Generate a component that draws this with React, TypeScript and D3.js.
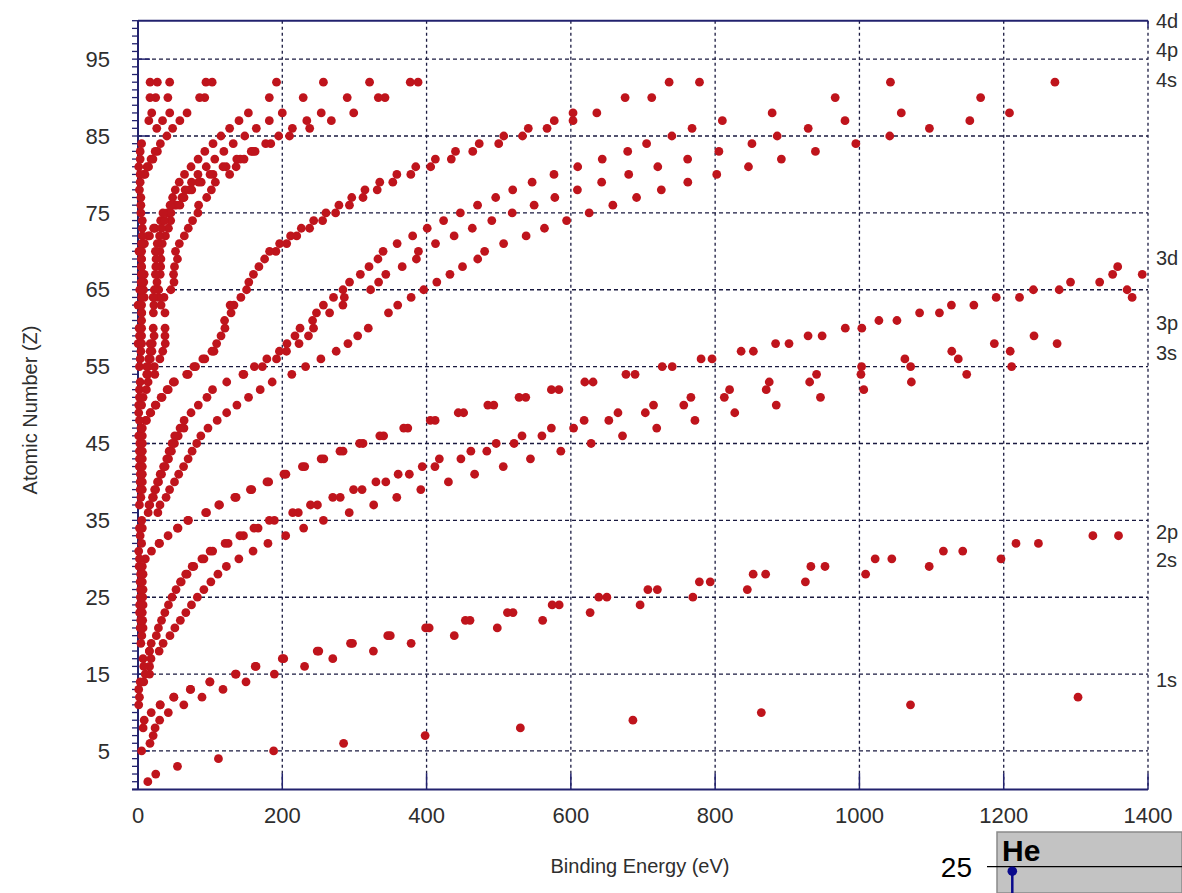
import React from "react";
import * as d3 from "d3";

// ---------- axes ----------
const xTicks = [0, 200, 400, 600, 800, 1000, 1200, 1400];
const yTicks = [5, 15, 25, 35, 45, 55, 65, 75, 85, 95];
const xTitle = "Binding Energy (eV)";
const yTitle = "Atomic Number (Z)";

// ---------- right-hand shell labels (Z position where they sit) ----------
const shellLabels = ["4d", "4p", "4s", "3d", "3p", "3s", "2p", "2s", "1s"];
const shellLabelZ = [99.9, 96.2, 92.3, 69.1, 60.7, 56.8, 33.5, 29.9, 14.2];

// ---------- binding energies [Z, eV] ----------
const s1s: [number, number][] = [
  [1, 13.6], [2, 24.6], [3, 54.7], [4, 111.5], [5, 188], [6, 285], [7, 398],
  [8, 530], [9, 686], [10, 864], [11, 1070.8], [12, 1303],
];
const s2s: [number, number][] = [
  [5, 5], [6, 16.6], [7, 21], [8, 23.7], [9, 30], [10, 42], [11, 63.5], [12, 88.7],
  [13, 117.8], [14, 149.7], [15, 189], [16, 230.9], [17, 270], [18, 326.3], [19, 378.6],
  [20, 438.4], [21, 498], [22, 560.9], [23, 626.7], [24, 696], [25, 769.1], [26, 844.6],
  [27, 925.1], [28, 1008.6], [29, 1096.7], [30, 1196.2],
];
const s2p1: [number, number][] = [
  [8, 7.1], [9, 8.6], [10, 18.3], [11, 30.65], [12, 49.78], [13, 72.95], [14, 99.82],
  [15, 136], [16, 163.6], [17, 202], [18, 250.6], [19, 297.3], [20, 349.7], [21, 403.6],
  [22, 460.2], [23, 519.8], [24, 583.8], [25, 649.9], [26, 719.9], [27, 793.2], [28, 870],
  [29, 952.3], [30, 1044.9], [31, 1143.2], [32, 1248.1], [33, 1359.1],
];
const s2p3: [number, number][] = [
  [11, 30.81], [12, 49.5], [13, 72.55], [14, 99.42], [15, 135], [16, 162.5],
  [17, 200], [18, 248.4], [19, 294.6], [20, 346.2], [21, 398.7], [22, 453.8], [23, 512.1],
  [24, 574.1], [25, 638.7], [26, 706.8], [27, 778.1], [28, 852.7], [29, 932.7],
  [30, 1021.8], [31, 1116.4], [32, 1217], [33, 1323.6],
];
const s3s: [number, number][] = [
  [18, 29.3], [19, 34.8], [20, 44.3], [21, 51.1], [22, 58.7], [23, 66.3], [24, 74.1],
  [25, 82.3], [26, 91.3], [27, 101], [28, 110.8], [29, 122.5], [30, 139.8], [31, 159.5],
  [32, 180.1], [33, 204.7], [34, 229.6], [35, 257], [36, 292.8], [37, 326.7], [38, 358.7],
  [39, 392], [40, 430.3], [41, 466.6], [42, 506.3], [43, 544], [44, 586.1], [45, 628.1],
  [46, 671.6], [47, 719], [48, 772], [49, 827.2], [50, 884.7], [51, 946], [52, 1006],
  [53, 1072], [54, 1148.7], [55, 1211],
];
const s3p1: [number, number][] = [
  [18, 15.9], [19, 18.3], [20, 25.4], [21, 28.3], [22, 32.6], [23, 37.2], [24, 42.2],
  [25, 47.2], [26, 52.7], [27, 58.9], [28, 68], [29, 77.3], [30, 91.4], [31, 103.5],
  [32, 124.9], [33, 146.2], [34, 166.5], [35, 189], [36, 222.2], [37, 248.7], [38, 280.3],
  [39, 310.6], [40, 343.5], [41, 376.1], [42, 411.6], [43, 447.6], [44, 483.5], [45, 521.3],
  [46, 559.9], [47, 603.8], [48, 652.6], [49, 703.2], [50, 756.5], [51, 812.7], [52, 870.8],
  [53, 931], [54, 1002.1], [55, 1071], [56, 1137], [57, 1209], [58, 1274],
];
const s3p3: [number, number][] = [
  [18, 15.7], [27, 59.9], [28, 66.2], [29, 75.1], [30, 88.6], [31, 100],
  [32, 120.8], [33, 141.2], [34, 160.7], [35, 182], [36, 214.4], [37, 239.1], [38, 270],
  [39, 298.8], [40, 329.8], [41, 360.6], [42, 394], [43, 417.7], [44, 461.4], [45, 496.5],
  [46, 532.3], [47, 573], [48, 618.4], [49, 665.3], [50, 714.6], [51, 766.4], [52, 820],
  [53, 875], [54, 940.6], [55, 1003], [56, 1063], [57, 1128], [58, 1187], [59, 1242],
];
const s3d3: [number, number][] = [
  [30, 10.2], [31, 18.7], [32, 29.8], [33, 41.7], [34, 55.5], [35, 70], [36, 95],
  [37, 113], [38, 136], [39, 157.7], [40, 181.1], [41, 205], [42, 231.1], [43, 257.6],
  [44, 284.2], [45, 311.9], [46, 340.5], [47, 374], [48, 411.9], [49, 451.4], [50, 493.2],
  [51, 537.5], [52, 583.4], [53, 630.8], [54, 689], [55, 740.5], [56, 795.7], [57, 853],
  [58, 902.4], [59, 948.3], [60, 1003.3], [61, 1052], [62, 1110.9], [63, 1158.6],
  [64, 1221.9], [65, 1276.9], [66, 1333], [67, 1392],
];
const s3d5: [number, number][] = [
  [32, 29.2], [34, 54.6], [35, 69], [36, 93.8],
  [37, 112], [38, 134.2], [39, 155.8], [40, 178.8], [41, 202.3], [42, 227.9], [43, 253.9],
  [44, 280], [45, 307.2], [46, 335.2], [47, 368.3], [48, 405.2], [49, 443.9], [50, 484.9],
  [51, 528.2], [52, 573], [53, 619.3], [54, 676.4], [55, 726.6], [56, 780.5], [57, 836],
  [58, 883.8], [59, 928.8], [60, 980.4], [61, 1027], [62, 1083.4], [63, 1127.5],
  [64, 1189.6], [65, 1241.1], [66, 1292.6], [67, 1351],
];
const sExtra: [number, number][] = [[68, 1358], [65, 1371], [64, 1378]];
const s4s: [number, number][] = [
  [36, 27.5], [37, 30.5], [38, 38.9], [39, 43.8], [40, 50.6], [41, 56.4], [42, 63.2],
  [43, 69.5], [44, 75], [45, 81.4], [46, 87.1], [47, 97], [48, 109.8], [49, 122.9],
  [50, 137.1], [51, 153.2], [52, 169.4], [53, 186], [54, 213.2], [55, 232.3], [56, 253.5],
  [57, 274.7], [58, 291], [59, 304.5], [60, 319.2], [62, 347.2], [63, 360], [64, 378.6],
  [65, 396], [66, 414.2], [67, 432.4], [68, 449.8], [69, 470.9], [70, 480.5], [71, 506.8],
  [72, 538], [73, 563.4], [74, 594.1], [75, 625.4], [76, 658.2], [77, 691.1], [78, 725.4],
  [79, 762.1], [80, 802.2], [81, 846.2], [82, 891.8], [83, 939], [84, 995], [85, 1042],
  [86, 1097], [87, 1153], [88, 1208],
];
const s4p1: [number, number][] = [
  [36, 14.1], [37, 16.3], [38, 21.3], [39, 24.4], [40, 28.5], [41, 32.6], [42, 37.6],
  [43, 42.3], [44, 46.3], [45, 50.5], [46, 55.7], [47, 63.7], [48, 63.9], [49, 73.5],
  [50, 83.6], [51, 95.6], [52, 103.3], [53, 123], [54, 146.7], [55, 172.4], [56, 192],
  [57, 205.8], [58, 223.2], [59, 236.3], [60, 243.3], [61, 242], [62, 265.6], [63, 284],
  [64, 286], [65, 322.4], [66, 333.5], [67, 343.5], [68, 366.2], [69, 385.9], [70, 388.7],
  [71, 412.4], [72, 438.2], [73, 463.4], [74, 490.4], [75, 518.7], [76, 549.1], [77, 577.8],
  [78, 609.1], [79, 642.7], [80, 680.2], [81, 720.5], [82, 761.9], [83, 805.2], [84, 851],
  [85, 886], [86, 929], [87, 980], [88, 1058], [90, 1168], [92, 1271],
];
const s4p3: [number, number][] = [
  [37, 15.3], [38, 20.1], [39, 23.1], [40, 27.1], [41, 30.8], [42, 35.5], [43, 39.9],
  [44, 43.2], [45, 47.3], [46, 50.9], [47, 58.3], [54, 145.5], [55, 161.3], [56, 178.6],
  [57, 196], [58, 206.5], [59, 217.6], [60, 224.6], [62, 247.4], [63, 257], [64, 271],
  [65, 284.1], [66, 293.2], [67, 308.2], [68, 320.2], [69, 332.6], [70, 339.7], [71, 359.2],
  [72, 380.7], [73, 400.9], [74, 423.6], [75, 446.8], [76, 470.7], [77, 495.8], [78, 519.4],
  [79, 546.3], [80, 576.6], [81, 609.5], [82, 643.5], [83, 678.8], [84, 705], [85, 740],
  [86, 768], [87, 810], [88, 879], [90, 966.4], [92, 1043],
];
const s4d3: [number, number][] = [
  [48, 11.7], [49, 17.7], [50, 24.9], [51, 33.3], [52, 41.9], [53, 50.6], [54, 69.5],
  [55, 79.8], [56, 92.6], [57, 105.3], [58, 109], [59, 115.1], [60, 120.5], [61, 120],
  [62, 129], [63, 133], [65, 150.5], [66, 153.6], [67, 160], [68, 167.6], [69, 175.5],
  [70, 191.2], [71, 206.1], [72, 220], [73, 237.9], [74, 255.9], [75, 273.9], [76, 293.1],
  [77, 311.9], [78, 331.6], [79, 353.2], [80, 378.2], [81, 405.7], [82, 434.3], [83, 464],
  [84, 500], [85, 533], [86, 567], [87, 603], [88, 636], [90, 712.1], [92, 778.3],
];
const s4d5: [number, number][] = [
  [48, 10.7], [49, 16.9], [50, 23.9], [51, 32.1], [52, 40.4], [53, 48.9], [54, 67.5],
  [55, 77.5], [56, 89.9], [57, 102.5], [63, 127.7], [64, 142.6], [70, 182.4], [71, 196.3],
  [72, 211.5], [73, 226.4], [74, 243.5], [75, 260.5], [76, 278.5], [77, 296.3], [78, 314.6],
  [79, 335.1], [80, 358.8], [81, 385], [82, 412.2], [83, 440.1], [84, 473], [85, 507],
  [86, 541], [87, 577], [88, 603], [90, 675.2], [92, 736.2],
];
const s4f5: [number, number][] = [
  [58, 0.1], [59, 2], [60, 1.5], [62, 5.2], [63, 0], [64, 8.6], [65, 7.7], [66, 8],
  [67, 8.6], [70, 2.5], [71, 8.9], [72, 15.9], [73, 23.5], [74, 33.6], [75, 42.9],
  [76, 53.4], [77, 63.8], [78, 74.5], [79, 87.6], [80, 104], [81, 122.2], [82, 141.7],
  [83, 162.3], [84, 184], [85, 210], [86, 238], [87, 268], [88, 299], [90, 342.4], [92, 388.2],
];
const s4f7: [number, number][] = [
  [65, 2.4], [66, 4.3], [67, 5.2], [68, 4.7], [69, 4.6], [70, 1.3], [71, 7.5], [72, 14.2],
  [73, 21.6], [74, 31.4], [75, 40.5], [76, 50.7], [77, 60.8], [78, 71.2], [79, 84],
  [80, 99.9], [81, 117.8], [82, 136.9], [83, 157], [90, 333.1], [92, 377.4],
];
const s5s: [number, number][] = [
  [54, 23.3], [55, 22.7], [56, 30.3], [57, 34.3], [58, 37.8], [59, 37.4], [60, 37.5],
  [62, 37.4], [63, 32], [64, 36], [65, 45.6], [66, 49.9], [67, 49.3], [68, 50.6], [69, 54.7],
  [70, 52], [71, 57.3], [72, 64.2], [73, 69.7], [74, 75.6], [75, 83], [76, 84], [77, 95.2],
  [78, 101.7], [79, 107.2], [80, 127], [81, 136], [82, 147], [83, 159.3], [84, 177],
  [85, 195], [86, 214], [87, 234], [88, 254], [90, 290], [92, 321],
];
const s5p1: [number, number][] = [
  [54, 13.4], [55, 14.2], [56, 17], [57, 19.3], [58, 19.8], [59, 22.3], [60, 21.1],
  [62, 21.3], [63, 22], [64, 28], [65, 28.7], [66, 26.3], [67, 30.8], [68, 31.4], [69, 31.8],
  [70, 30.3], [71, 33.6], [72, 38], [73, 42.2], [74, 45.3], [75, 45.6], [76, 58], [77, 63],
  [78, 65.3], [79, 74.2], [80, 83.1], [81, 94.6], [82, 106.4], [83, 119], [84, 132],
  [85, 148], [86, 164], [87, 182], [88, 200], [90, 229], [92, 257],
];
const s5p3: [number, number][] = [
  [54, 12.1], [55, 12.1], [56, 14.8], [57, 16.8], [58, 17], [64, 21], [65, 22.6],
  [67, 24.1], [68, 24.7], [69, 25], [70, 24.1], [71, 26.7], [72, 29.9], [73, 32.7],
  [74, 36.8], [75, 34.6], [76, 44.5], [77, 48], [78, 51.7], [79, 57.2], [80, 64.5],
  [81, 73.5], [82, 83.3], [83, 92.6], [84, 104], [85, 115], [86, 127], [87, 140], [88, 153],
  [90, 182], [92, 192],
];
const s5d3: [number, number][] = [
  [80, 9.6], [81, 14.7], [82, 20.7], [83, 26.9], [84, 31], [85, 40], [86, 48], [87, 58],
  [88, 68], [90, 92.5], [92, 102.8],
];
const s5d5: [number, number][] = [
  [80, 7.8], [81, 12.5], [82, 18.1], [83, 23.8], [90, 85.4], [92, 94.2],
];
const s6s: [number, number][] = [[86, 26], [87, 34], [88, 44], [90, 41.4], [92, 43.9]];
const s6p: [number, number][] = [[87, 15], [88, 19], [90, 24.5], [90, 16.6], [92, 26.8], [92, 16.8]];

// outer (valence) levels hugging the Z axis
const sOuter: [number, number][] = [
  [11, 1], [12, 2], [13, 1], [14, 8], [14, 3], [15, 16], [15, 10], [16, 16], [16, 8],
  [17, 18], [17, 7], [19, 4], [20, 5.3], [21, 7], [21, 3], [22, 3.7], [22, 6.5], [23, 2.2],
  [23, 6], [24, 2.3], [24, 7], [25, 3.3], [25, 6.5], [26, 3.6], [26, 7], [27, 2.9], [27, 6],
  [28, 3.6], [28, 7], [29, 1.6], [29, 6], [30, 2], [31, 1], [32, 5], [33, 3], [34, 6], [34, 2],
  [35, 5.2], [37, 2], [38, 4], [39, 3], [39, 6], [40, 3], [40, 6], [41, 3.2], [41, 6],
  [42, 1.8], [42, 6], [43, 2], [43, 6], [44, 2], [44, 6], [45, 2.5], [45, 6], [46, 1],
  [46, 6], [47, 4], [47, 6], [48, 2], [49, 1], [50, 1], [50, 5], [51, 2], [51, 7], [52, 2],
  [52, 11.6], [53, 3], [53, 14], [55, 2], [56, 3], [57, 4], [58, 5], [59, 5], [60, 5],
  [61, 5], [62, 5], [63, 5], [64, 5], [65, 5], [66, 5], [67, 5], [68, 5], [69, 5], [70, 5],
  [71, 5], [72, 6], [73, 6], [74, 6], [75, 4], [76, 4], [77, 4], [78, 2], [79, 3], [80, 3],
  [81, 1], [82, 3], [83, 3], [84, 5],
];

const allShells = [
  s1s, s2s, s2p1, s2p3, s3s, s3p1, s3p3, s3d3, s3d5, sExtra, s4s, s4p1, s4p3,
  s4d3, s4d5, s4f5, s4f7, s5s, s5p1, s5p3, s5d3, s5d5, s6s, s6p, sOuter,
];

// inset (cut-off element panel)
const insetElement = "He";
const insetTick = 25;
const insetValue = 24.6;

export default function App() {
  const W = 1182;
  const H = 893;
  const x = d3.scaleLinear().domain([0, 1400]).range([138, 1148]);
  const y = d3.scaleLinear().domain([0, 100]).range([789.4, 20.7]);
  const points = allShells.flat().filter((d) => d[1] <= 1400);
  const minorY = d3.range(0, 101, 1);
  const axisColor = "#22226e";
  const gridColor = "#1a1a40";
  const font = "'Liberation Sans', Arial, sans-serif";
  const textFill = "#2e2e2e";

  // inset scale
  const iy = d3.scaleLinear().domain([25, 24]).range([866.7, 893]);

  return (
    <svg
      width={W}
      height={H}
      style={{ position: "absolute", left: 0, top: 0, background: "#fff" }}
      fontFamily={font}
    >
      <rect x={0} y={0} width={W} height={H} fill="#ffffff" />
      {/* horizontal grid */}
      {yTicks.map((t) => (
        <line
          key={"gy" + t}
          x1={x(0)}
          x2={x(1400)}
          y1={y(t)}
          y2={y(t)}
          stroke={gridColor}
          strokeWidth={1.3}
          strokeDasharray="4,3"
        />
      ))}
      {/* vertical grid */}
      {xTicks.slice(1).map((t) => (
        <line
          key={"gx" + t}
          x1={x(t)}
          x2={x(t)}
          y1={y(100)}
          y2={y(0)}
          stroke={gridColor}
          strokeWidth={1.3}
          strokeDasharray="3,3"
        />
      ))}
      {/* top border */}
      <line x1={x(0)} x2={x(1400)} y1={y(100)} y2={y(100)} stroke={axisColor} strokeWidth={2} />
      <line x1={x(1400)} x2={x(1400)} y1={y(100)} y2={y(100) + 7} stroke={axisColor} strokeWidth={1.5} />
      {/* left axis */}
      <line x1={x(0)} x2={x(0)} y1={y(100)} y2={y(0)} stroke={axisColor} strokeWidth={2} />
      {minorY.map((t) => (
        <line
          key={"my" + t}
          x1={x(0) - 6}
          x2={x(0)}
          y1={y(t)}
          y2={y(t)}
          stroke={axisColor}
          strokeWidth={1.3}
        />
      ))}
      {yTicks.map((t) => (
        <line
          key={"My" + t}
          x1={x(0)}
          x2={x(0) + 12}
          y1={y(t)}
          y2={y(t)}
          stroke={axisColor}
          strokeWidth={1.5}
        />
      ))}
      {/* bottom axis */}
      <line x1={x(0) - 6} x2={x(1400)} y1={y(0)} y2={y(0)} stroke={axisColor} strokeWidth={2} />
      {xTicks.map((t) => (
        <line
          key={"tx" + t}
          x1={x(t)}
          x2={x(t)}
          y1={y(0)}
          y2={y(0) - 16}
          stroke={axisColor}
          strokeWidth={1.5}
        />
      ))}
      {/* tick labels */}
      {yTicks.map((t) => (
        <text
          key={"ly" + t}
          x={x(0) - 28}
          y={y(t)}
          dy="0.35em"
          textAnchor="end"
          fontSize={22}
          fill={textFill}
        >
          {t}
        </text>
      ))}
      {xTicks.map((t) => (
        <text
          key={"lx" + t}
          x={x(t)}
          y={y(0) + 34}
          textAnchor="middle"
          fontSize={22}
          fill={textFill}
        >
          {t}
        </text>
      ))}
      {/* axis titles */}
      <text x={640} y={873} textAnchor="middle" fontSize={20} fill={textFill}>
        {xTitle}
      </text>
      <text
        transform={`translate(37,410) rotate(-90)`}
        textAnchor="middle"
        fontSize={20}
        fill={textFill}
      >
        {yTitle}
      </text>
      {/* points */}
      {points.map((d, i) => (
        <circle key={"p" + i} cx={x(d[1])} cy={y(d[0])} r={4.4} fill="#bf141c" />
      ))}
      {/* shell labels */}
      {shellLabels.map((s, i) => (
        <text
          key={"sl" + s}
          x={1156}
          y={y(shellLabelZ[i])}
          dy="0.35em"
          fontSize={20}
          fill={textFill}
        >
          {s}
        </text>
      ))}
      {/* inset panel */}
      <rect x={997} y={832} width={W - 997} height={H - 832} fill="#c3c3c3" stroke="#8a8a8a" strokeWidth={1.5} />
      <text x={1002} y={861} fontSize={30} fontWeight="bold" fill="#000">
        {insetElement}
      </text>
      <line x1={987} x2={W} y1={iy(insetTick)} y2={iy(insetTick)} stroke="#000" strokeWidth={1.2} />
      <text x={972} y={iy(insetTick)} dy="0.36em" textAnchor="end" fontSize={28} fill="#000">
        {insetTick}
      </text>
      <line x1={1012.3} x2={1012.3} y1={iy(insetValue) - 6} y2={H} stroke="#0a0a8c" strokeWidth={2.5} />
      <circle cx={1012.3} cy={iy(insetValue) - 6} r={4.8} fill="#0a0a8c" />
    </svg>
  );
}
